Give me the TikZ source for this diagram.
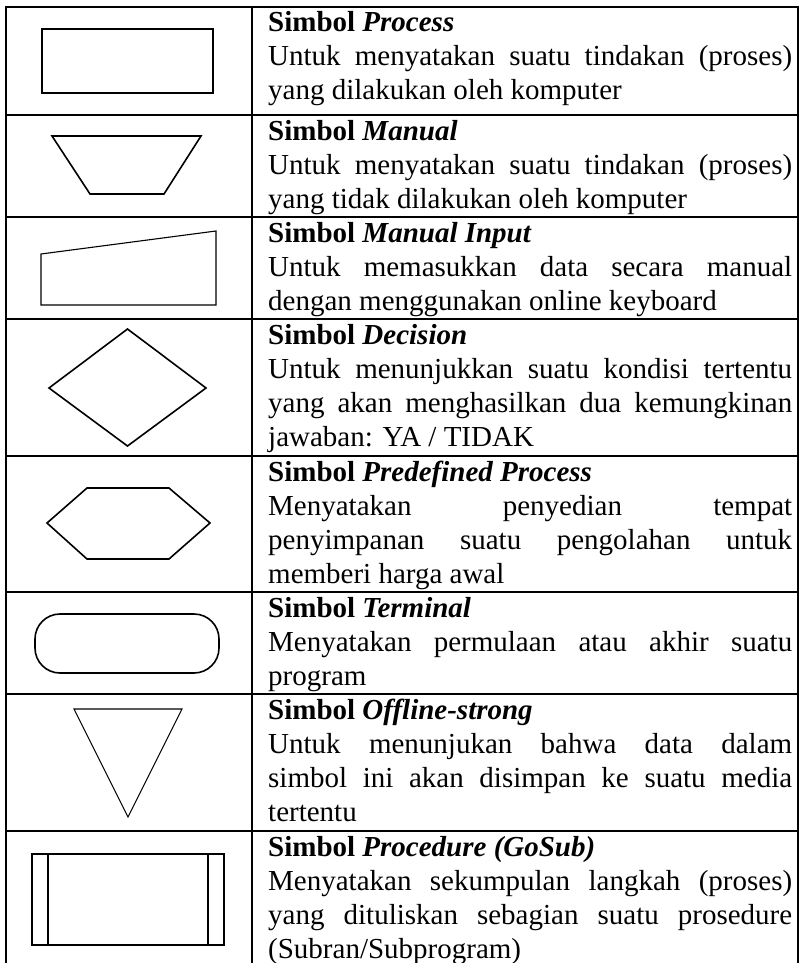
\documentclass[tikz,border=0pt]{standalone}
\usepackage{fontspec}
\setmainfont{Liberation Serif}
\newcommand\jl[1]{\hbox to 524pt{#1}}
\newcommand\ttl[1]{\textbf{Simbol} \textbf{\textit{#1}}}
\begin{document}
\begin{tikzpicture}[x=1pt,y=-1pt,
  gridline/.style={line width=2.2pt},
  shp/.style={line width=1.6pt, line join=miter},
  thinshp/.style={line width=1.1pt, line join=miter},
  txt/.style={anchor=base west, inner sep=0pt, font=\fontsize{29}{34}\selectfont}]
\useasboundingbox (0,0) rectangle (801,963);
% table
\draw[gridline] (6,963) -- (6,7) -- (798,7) -- (798,963);
\draw[gridline] (252,7) -- (252,963);
\foreach \yy in {115,217,319,456,592,694,831}
  \draw[gridline] (6,\yy) -- (798,\yy);
% shapes
\draw[shp] (42,29) rectangle (213,93);
\draw[shp] (52,136) -- (201,136) -- (164,194) -- (90,194) -- cycle;
\draw[thinshp] (41,254) -- (216,231) -- (216,305) -- (41,305) -- cycle;
\draw[shp] (127.5,329) -- (206,388) -- (127.5,446) -- (49,388) -- cycle;
\draw[shp] (47,523) -- (87,488) -- (169,488) -- (210,523) -- (169,559) -- (87,559) -- cycle;
\draw[shp, rounded corners=25pt] (35,614) rectangle (219,673);
\draw[thinshp] (74,709) -- (182,709) -- (128,817) -- cycle;
\draw[thinshp] (32,854) rectangle (224,945);
\draw[thinshp] (48,854) -- (48,945);
\draw[thinshp] (208,854) -- (208,945);
% row 1
\node[txt] (a1) at (268,32) {\ttl{Process}};
\node[txt] (a2) at (268,66) {\jl{Untuk menyatakan suatu tindakan (proses)}};
\node[txt] (a3) at (268,100) {yang dilakukan oleh komputer};
% row 2
\node[txt] (b1) at (268,140) {\ttl{Manual}};
\node[txt] (b2) at (268,174) {\jl{Untuk menyatakan suatu tindakan (proses)}};
\node[txt] (b3) at (268,208) {yang tidak dilakukan oleh komputer};
% row 3
\node[txt] (c1) at (268,242) {\ttl{Manual Input}};
\node[txt] (c2) at (268,276) {\jl{Untuk memasukkan data secara manual}};
\node[txt] (c3) at (268,310) {dengan menggunakan online keyboard};
% row 4
\node[txt] (d1) at (268,344) {\ttl{Decision}};
\node[txt] (d2) at (268,378) {\jl{Untuk menunjukkan suatu kondisi tertentu}};
\node[txt] (d3) at (268,412) {\jl{yang akan menghasilkan dua kemungkinan}};
\node[txt] (d4) at (268,446) {jawaban: YA / TIDAK};
% row 5
\node[txt] (e1) at (268,481) {\ttl{Predefined Process}};
\node[txt] (e2) at (268,515) {\jl{Menyatakan penyedian tempat}};
\node[txt] (e3) at (268,549) {\jl{penyimpanan suatu pengolahan untuk}};
\node[txt] (e4) at (268,583) {memberi harga awal};
% row 6
\node[txt] (f1) at (268,617) {\ttl{Terminal}};
\node[txt] (f2) at (268,651) {\jl{Menyatakan permulaan atau akhir suatu}};
\node[txt] (f3) at (268,685) {program};
% row 7
\node[txt] (g1) at (268,719) {\ttl{Offline-strong}};
\node[txt] (g2) at (268,753) {\jl{Untuk menunjukan bahwa data dalam}};
\node[txt] (g3) at (268,787) {\jl{simbol ini akan disimpan ke suatu media}};
\node[txt] (g4) at (268,821) {tertentu};
% row 8
\node[txt] (h1) at (268,856) {\ttl{Procedure (GoSub)}};
\node[txt] (h2) at (268,890) {\jl{Menyatakan sekumpulan langkah (proses)}};
\node[txt] (h3) at (268,924) {\jl{yang dituliskan sebagian suatu prosedure}};
\node[txt] (h4) at (268,958) {(Subran/Subprogram)};
\end{tikzpicture}
\end{document}
